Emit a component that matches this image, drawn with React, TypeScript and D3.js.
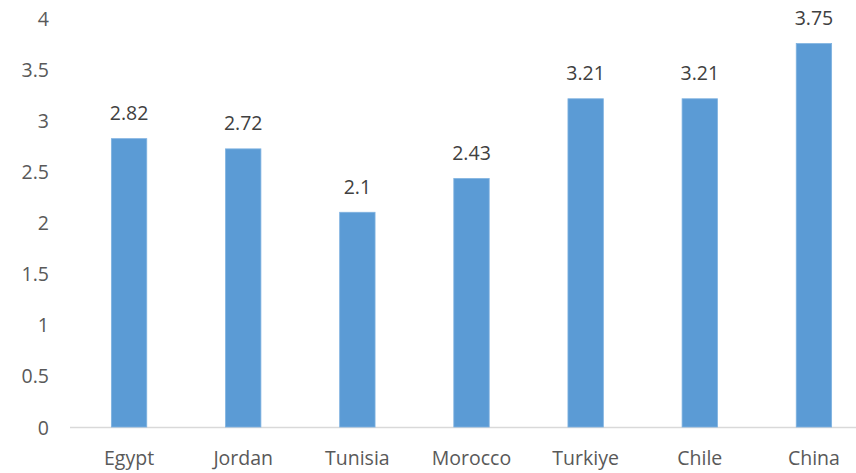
import React from "react";
import * as d3 from "d3";

const categories = ["Egypt", "Jordan", "Tunisia", "Morocco", "Turkiye", "Chile", "China"];
const values = [2.82, 2.72, 2.1, 2.43, 3.21, 3.21, 3.75];
const yTicks = [0, 0.5, 1, 1.5, 2, 2.5, 3, 3.5, 4];

const W = 856;
const H = 473;

export default function App() {
  const x = d3.scaleBand<string>().domain(categories).range([72, 871]).paddingInner(0.69).paddingOuter(0.345);
  const y = d3.scaleLinear().domain([0, 4]).range([427, 18]);
  const font = "'Open Sans', 'Noto Sans', sans-serif";
  return (
    <svg width={W} height={H} style={{ position: "absolute", left: 0, top: 0, background: "#fff" }}>
      <line x1={70} x2={W} y1={y(0) + 0.5} y2={y(0) + 0.5} stroke="#D9D9D9" strokeWidth={1.5} />
      {yTicks.map((t) => (
        <text key={t} x={49} y={y(t)} textAnchor="end" dominantBaseline="central" fontFamily={font} fontSize={19.5} fill="#595959">
          {t}
        </text>
      ))}
      {categories.map((c, i) => (
        <g key={c}>
          <rect x={x(c)} y={y(values[i])} width={x.bandwidth()} height={y(0) - y(values[i])} fill="#5B9BD5" stroke="#7FB2E0" strokeWidth={0.8} />
          <text x={(x(c) as number) + x.bandwidth() / 2} y={y(values[i]) - 26} textAnchor="middle" dominantBaseline="central" fontFamily={font} fontSize={19.5} fill="#404040">
            {values[i]}
          </text>
          <text x={(x(c) as number) + x.bandwidth() / 2} y={457} textAnchor="middle" dominantBaseline="central" fontFamily={font} fontSize={19.5} fill="#595959">
            {c}
          </text>
        </g>
      ))}
    </svg>
  );
}
